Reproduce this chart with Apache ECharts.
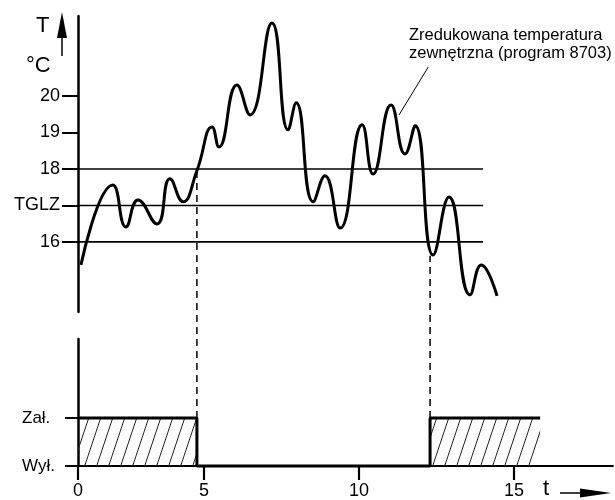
<!DOCTYPE html>
<html><head><meta charset="utf-8">
<script src="https://cdn.jsdelivr.net/npm/echarts@6/dist/echarts.min.js"></script>
<style>html,body{margin:0;padding:0;background:#fff}#c{width:615px;height:500px}</style>
</head><body><div id="c"></div>
<script>
// ---- data ----
const tempTimes  = [1.03, 2.06, 2.48, 2.87, 3.48, 3.90, 4.32, 4.77, 5.26, 5.48, 6.06, 6.48, 7.19, 7.71, 7.97, 8.52, 8.90, 9.39, 10.10, 10.45, 11.03, 11.48, 11.81, 12.39, 12.90, 13.58, 13.94, 14.45];
const tempValues = [15.37, 17.56, 16.41, 17.15, 16.49, 17.73, 17.10, 17.95, 19.15, 18.60, 20.30, 19.48, 22.00, 19.07, 19.81, 17.10, 17.81, 16.38, 19.21, 17.86, 19.75, 18.41, 19.18, 15.64, 17.23, 14.55, 15.37, 14.52];
const yTickValues = [16, 17, 18, 19, 20];
const yTickLabels = ['16', 'TGLZ', '18', '19', '20'];
const refLevels = [16, 17, 18];
const refLineEnd = 14.0;
const tOrigin = 0.935;            // t at the axis origin (labelled "0")
const tMax = 18.19;
const tempMin = 14.08, tempMax = 22.19;
const xTickValues = [5, 10, 15];
const xTickLabels = ['5', '10', '15'];
const originLabel = '0';
const stateTimes  = [0.935, 4.77, 12.29, 15.84];
const stateValues = [1, 0, 1, 1];
const stateTickValues = [0, 1];
const stateTickLabels = ['Wył.', 'Zał.'];
const stateMin = 0, stateMax = 2.646;
const switchOffTime = 4.77, switchOffTemp = 18;
const switchOnTime = 12.29, switchOnTemp = 15.62;
const annotationText = 'Zredukowana temperatura\nzewnętrzna (program 8703)';
const leaderFrom = [12.23, 20.79], leaderTo = [11.29, 19.48];

const FONT = "'Liberation Sans', Arial, sans-serif";

function hatch() {
  const c = document.createElement('canvas');
  c.width = 12; c.height = 36;
  const g = c.getContext('2d');
  g.strokeStyle = '#222'; g.lineWidth = 1;
  for (const off of [-12, 0, 12]) {
    g.beginPath(); g.moveTo(off, 36); g.lineTo(off + 12, 0); g.stroke();
  }
  return c;
}

const chart = echarts.init(document.getElementById('c'), null, {renderer: 'canvas'});

const refSeries = refLevels.map(lv => ({
  type: 'line', xAxisIndex: 0, yAxisIndex: 0, silent: true,
  data: [[tOrigin, lv], [refLineEnd, lv]], showSymbol: false,
  lineStyle: {color: '#000', width: 1.6}, z: 2
}));

const option = {
  animation: false,
  backgroundColor: '#fff',
  textStyle: {fontFamily: FONT},
  grid: [
    {left: 78, right: 2, top: 16, height: 296, containLabel: false, outerBoundsMode: 'none'},
    {left: 78, right: 2, top: 339, height: 127, containLabel: false, outerBoundsMode: 'none'}
  ],
  xAxis: [
    {gridIndex: 0, type: 'value', min: tOrigin, max: tMax, show: false},
    {gridIndex: 1, type: 'value', min: tOrigin, max: tMax,
      axisLine: {onZero: false, lineStyle: {color: '#000', width: 1.8}},
      axisTick: {customValues: [tOrigin].concat(xTickValues), length: 14, lineStyle: {color: '#000', width: 2.2}},
      axisLabel: {customValues: [tOrigin].concat(xTickValues), margin: 16, fontSize: 18, color: '#000', fontFamily: FONT,
        formatter: v => Math.abs(v - tOrigin) < 1e-6 ? originLabel : xTickLabels[xTickValues.indexOf(v)]},
      splitLine: {show: false}}
  ],
  yAxis: [
    {gridIndex: 0, type: 'value', min: tempMin, max: tempMax,
      axisLine: {show: true, onZero: false, lineStyle: {color: '#000', width: 2.5}},
      axisTick: {show: true, customValues: yTickValues, length: 16, lineStyle: {color: '#000', width: 2}},
      axisLabel: {customValues: yTickValues, margin: 18, fontSize: 18, color: '#000', fontFamily: FONT,
        formatter: v => yTickLabels[yTickValues.indexOf(v)]},
      splitLine: {show: false}},
    {gridIndex: 1, type: 'value', min: stateMin, max: stateMax,
      axisLine: {show: true, onZero: false, lineStyle: {color: '#000', width: 2.5}},
      axisTick: {show: true, customValues: stateTickValues, length: 13, lineStyle: {color: '#000', width: 2}},
      axisLabel: {customValues: stateTickValues, margin: 56, align: 'left', fontSize: 17, color: '#000', fontFamily: FONT,
        formatter: v => stateTickLabels[stateTickValues.indexOf(v)]},
      splitLine: {show: false}}
  ],
  series: refSeries.concat([
    {type: 'line', name: 'temp', xAxisIndex: 0, yAxisIndex: 0, smooth: 0.5, showSymbol: false,
      data: tempTimes.map((t, i) => [t, tempValues[i]]),
      lineStyle: {color: '#000', width: 3}, z: 5},
    {type: 'line', name: 'state', xAxisIndex: 1, yAxisIndex: 1, step: 'end', showSymbol: false, clip: false,
      data: stateTimes.map((t, i) => [t, stateValues[i]]),
      lineStyle: {color: '#000', width: 3},
      areaStyle: {color: {image: hatch(), repeat: 'repeat'}, opacity: 1}, z: 5},
    {type: 'line', name: 'leader', xAxisIndex: 0, yAxisIndex: 0, showSymbol: false, clip: false,
      data: [leaderFrom, leaderTo], lineStyle: {color: '#000', width: 1}}
  ]),
  graphic: [
    {type: 'text', left: 36, top: 15, style: {text: 'T', font: '22px ' + FONT, fill: '#000'}},
    {type: 'line', shape: {x1: 62, y1: 56, x2: 62, y2: 30}, style: {stroke: '#000', lineWidth: 1.5}},
    {type: 'polygon', shape: {points: [[57, 38], [67, 38], [62, 12]]}, style: {fill: '#000'}},
    {type: 'text', left: 26, top: 55, style: {text: '°C', font: '22px ' + FONT, fill: '#000'}},
    {type: 'text', left: 543, top: 478, style: {text: 't', font: '22px ' + FONT, fill: '#000'}},
    {type: 'line', shape: {x1: 560, y1: 493, x2: 585, y2: 493}, style: {stroke: '#000', lineWidth: 1.5}},
    {type: 'polygon', shape: {points: [[580, 488.5], [580, 497.5], [611, 493]]}, style: {fill: '#000'}},
    {type: 'text', left: 409, top: 26, style: {text: annotationText, font: '16.5px ' + FONT, fill: '#000', lineHeight: 18}}
  ]
};
chart.setOption(option);

// dashed connectors: from the temperature thresholds down to the "Zał." level
function connector(t, temp) {
  const px = chart.convertToPixel({gridIndex: 0}, [t, temp]);
  const v = chart.convertFromPixel({gridIndex: 1}, px)[1];
  return {type: 'line', xAxisIndex: 1, yAxisIndex: 1, showSymbol: false, clip: false, silent: true,
    data: [[t, 1], [t, v]], lineStyle: {color: '#000', width: 1.5, type: [7, 5]}, z: 3};
}
chart.setOption({series: option.series.concat([
  connector(switchOffTime, switchOffTemp),
  connector(switchOnTime, switchOnTemp)
])});
</script>
</body></html>
